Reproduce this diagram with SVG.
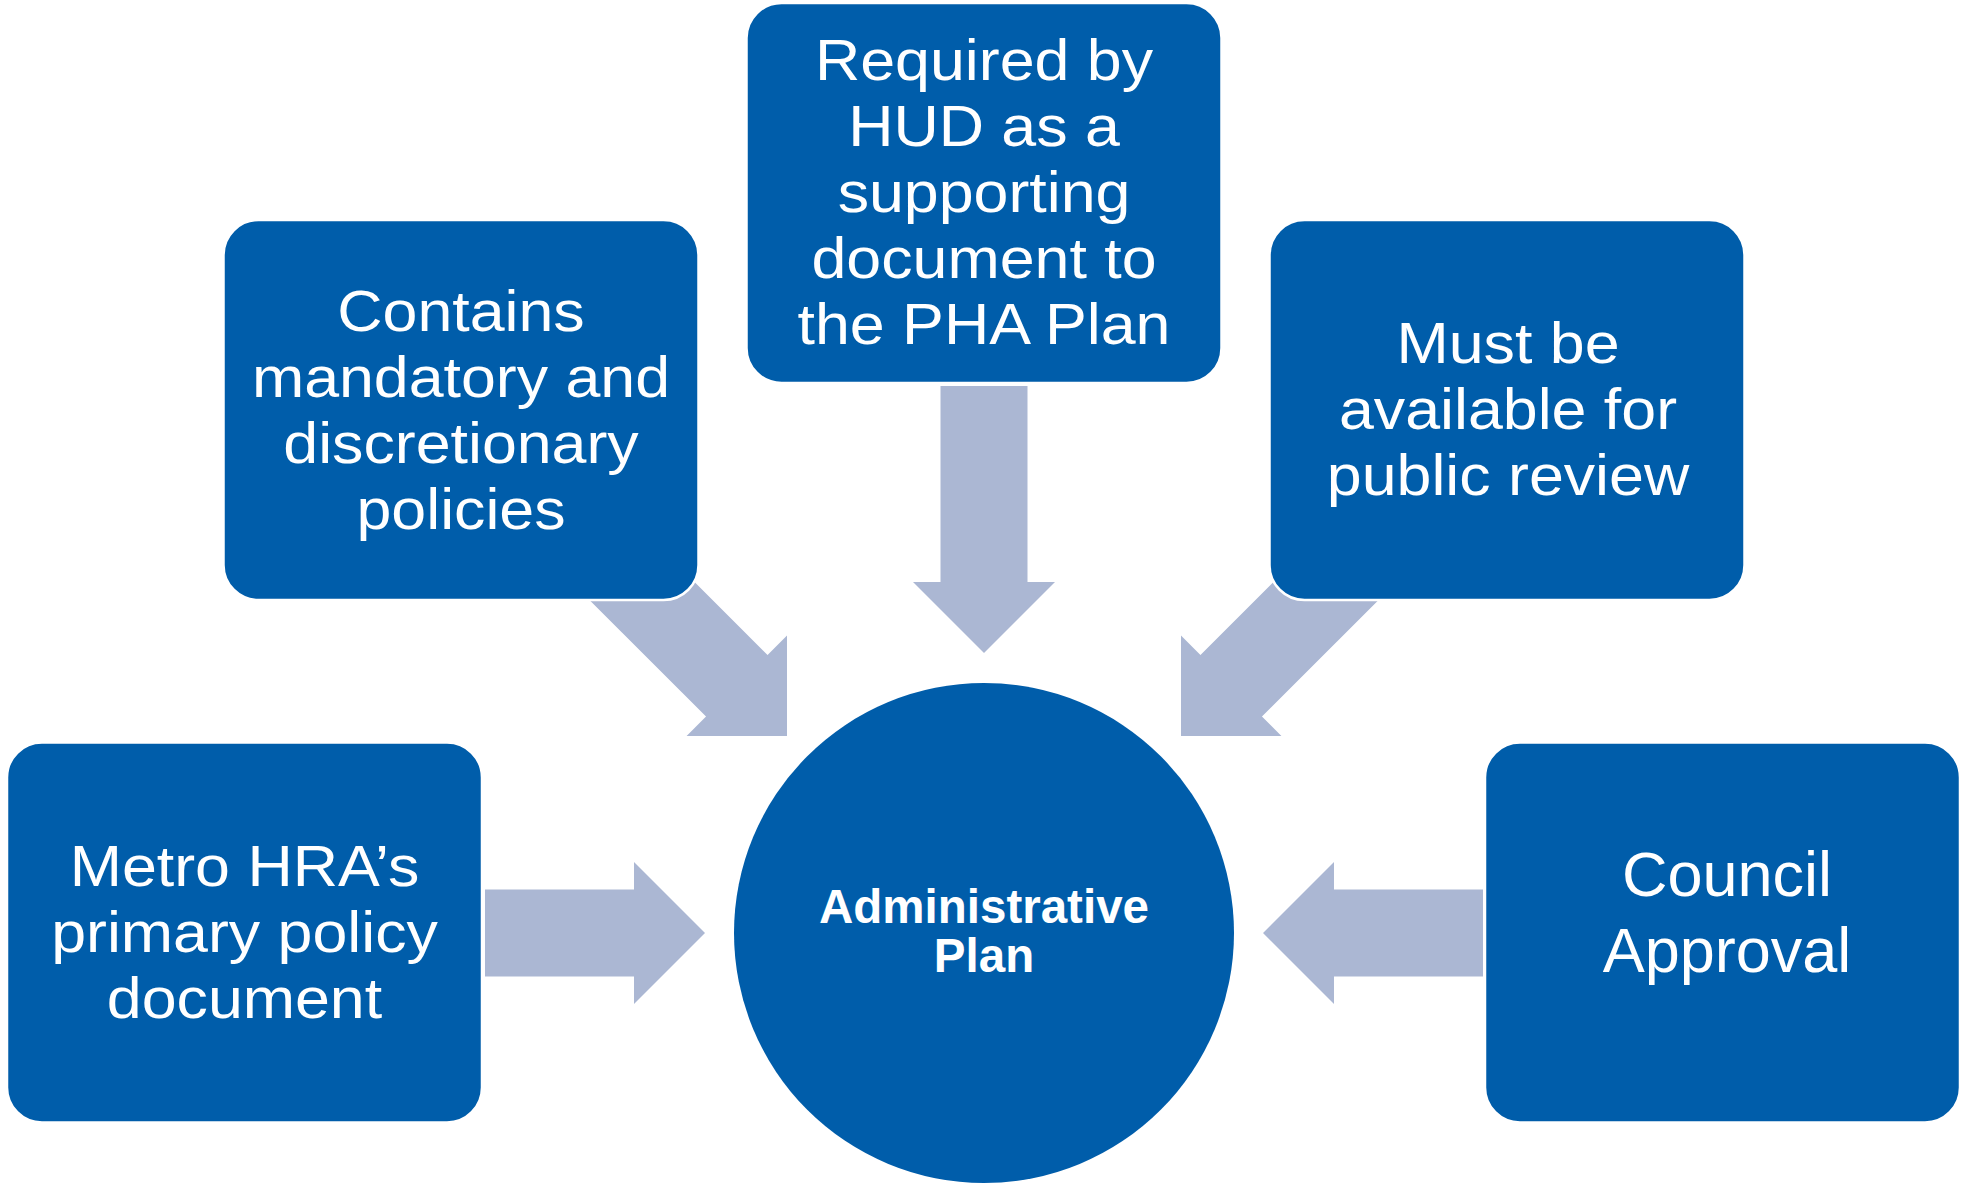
<svg xmlns="http://www.w3.org/2000/svg" width="1961" height="1185" viewBox="0 0 1961 1185">
  <style>
    .box { fill: #005DAA; stroke: #FFFFFF; stroke-width: 2.5; }
    .arrow { fill: #ABB7D3; }
    .t { font-family: "Liberation Sans", Arial, sans-serif; font-size: 57px; fill: #FFFFFF; text-anchor: middle; }
    .t2 { font-family: "Liberation Sans", Arial, sans-serif; font-size: 63px; fill: #FFFFFF; text-anchor: middle; }
    .tb { font-family: "Liberation Sans", Arial, sans-serif; font-size: 47.5px; font-weight: bold; fill: #FFFFFF; text-anchor: middle; }
  </style>
  <defs>
    <path id="arr220" d="M -220,-43.5 L -71,-43.5 L -71,-71 L 0,0 L -71,71 L -71,43.5 L -220,43.5 Z"/>
    <path id="arr267" d="M -267,-43.5 L -71,-43.5 L -71,-71 L 0,0 L -71,71 L -71,43.5 L -267,43.5 Z"/>
    <path id="arr300" d="M -300,-43.5 L -71,-43.5 L -71,-71 L 0,0 L -71,71 L -71,43.5 L -300,43.5 Z"/>
  </defs>
  <rect width="1961" height="1185" fill="#FFFFFF"/>

  <g id="connectors">
    <use href="#arr267" class="arrow" transform="translate(984,653) rotate(90)"/>
    <use href="#arr300" class="arrow" transform="translate(787,736) rotate(45)"/>
    <use href="#arr300" class="arrow" transform="translate(1181,736) rotate(135)"/>
    <use href="#arr220" class="arrow" transform="translate(705,933)"/>
    <use href="#arr220" class="arrow" transform="translate(1263,933) rotate(180)"/>
  </g>

  <g id="center">
    <circle cx="984" cy="933" r="250" fill="#005DAA"/>
    <text class="tb" x="984" y="923">Administrative</text>
    <text class="tb" x="984" y="972">Plan</text>
  </g>

  <g id="required">
    <rect class="box" x="746.5" y="3" width="475" height="380" rx="35"/>
    <g transform="translate(984,0) scale(1.1,1)">
      <text class="t" x="0" y="80">Required by</text>
      <text class="t" x="0" y="146">HUD as a</text>
      <text class="t" x="0" y="212">supporting</text>
      <text class="t" x="0" y="278">document to</text>
      <text class="t" x="0" y="344">the PHA Plan</text>
    </g>
  </g>

  <g id="contains">
    <rect class="box" x="223.5" y="220" width="475" height="380" rx="35"/>
    <g transform="translate(461,0) scale(1.1,1)">
      <text class="t" x="0" y="331">Contains</text>
      <text class="t" x="0" y="397">mandatory and</text>
      <text class="t" x="0" y="463">discretionary</text>
      <text class="t" x="0" y="529">policies</text>
    </g>
  </g>

  <g id="public">
    <rect class="box" x="1269.5" y="220" width="475" height="380" rx="35"/>
    <g transform="translate(1508,0) scale(1.1,1)">
      <text class="t" x="0" y="363.5">Must be</text>
      <text class="t" x="0" y="429.5">available for</text>
      <text class="t" x="0" y="495">public review</text>
    </g>
  </g>

  <g id="metro">
    <rect class="box" x="7" y="742.5" width="475" height="380" rx="35"/>
    <g transform="translate(244.5,0) scale(1.1,1)">
      <text class="t" x="0" y="886">Metro HRA’s</text>
      <text class="t" x="0" y="952">primary policy</text>
      <text class="t" x="0" y="1018">document</text>
    </g>
  </g>

  <g id="council">
    <rect class="box" x="1485" y="742.5" width="475" height="380" rx="35"/>
    <text class="t2" x="1727" y="896">Council</text>
    <text class="t2" x="1727" y="972">Approval</text>
  </g>
</svg>
